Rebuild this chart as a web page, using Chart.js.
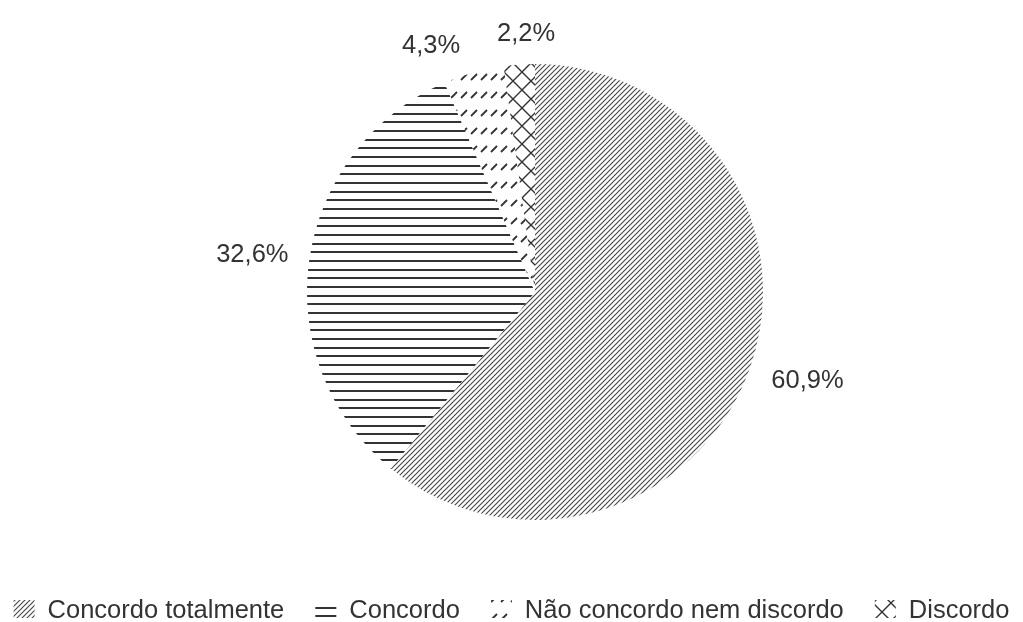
<!DOCTYPE html>
<html>
<head>
<meta charset="utf-8">
<script src="https://cdn.jsdelivr.net/npm/chart.js@4.4.0/dist/chart.umd.min.js"></script>
<style>
    html, body { margin: 0; padding: 0; background: #ffffff; }
    #wrap { width: 1023px; height: 622px; position: relative; }
</style>
</head>
<body>
<div id="wrap"><canvas id="pieChart"></canvas></div>
<script>
// Data
const categories = ['Concordo totalmente', 'Concordo', 'Não concordo nem discordo', 'Discordo'];
const percentages = [60.9, 32.6, 4.3, 2.2];
const percentLabels = ['60,9%', '32,6%', '4,3%', '2,2%'];

// Label angle nudges (degrees), like Excel's best-fit shuffling
const labelNudge = [-2, 0, -7, 2];

const INK = '#333333';
const FONT = '25.5px "Liberation Sans", Arial, sans-serif';

// Build a pattern from a small tile
function makePattern(w, h, draw) {
    const c = document.createElement('canvas');
    c.width = w;
    c.height = h;
    const g = c.getContext('2d');
    g.fillStyle = '#ffffff';
    g.fillRect(0, 0, w, h);
    g.strokeStyle = INK;
    g.fillStyle = INK;
    draw(g, w, h);
    return document.createElement('canvas').getContext('2d').createPattern(c, 'repeat');
}

// Dense upward diagonal
const diagPattern = makePattern(5, 5, (g, s) => {
    g.strokeStyle = '#4a4a4a';
    g.lineWidth = 1.2;
    g.beginPath();
    g.moveTo(-1, s + 1); g.lineTo(s + 1, -1);
    g.moveTo(-1, 1); g.lineTo(1, -1);
    g.moveTo(s - 1, s + 1); g.lineTo(s + 1, s - 1);
    g.stroke();
});

// Horizontal lines
const horizPattern = makePattern(4, 26, (g) => {
    g.fillRect(0, 0, 4, 2);
    g.fillRect(0, 9, 4, 2);
    g.fillRect(0, 17, 4, 2);
});

// Short dashes in rows
const dashPattern = makePattern(10, 18, (g) => {
    g.lineWidth = 1.8;
    g.beginPath();
    g.moveTo(1, 8); g.lineTo(7, 2);
    g.stroke();
});

// Diamond lattice
const crossPattern = makePattern(18, 18, (g, s) => {
    g.lineWidth = 1.4;
    g.beginPath();
    g.moveTo(0, 0); g.lineTo(s, s);
    g.moveTo(s, 0); g.lineTo(0, s);
    g.stroke();
});

const fills = [diagPattern, horizPattern, dashPattern, crossPattern];

// Percentage labels outside the slices
const outsideLabels = {
    id: 'outsideLabels',
    afterDatasetsDraw(chart) {
        const ctx = chart.ctx;
        const meta = chart.getDatasetMeta(0);
        ctx.save();
        ctx.font = FONT;
        ctx.fillStyle = INK;
        ctx.textAlign = 'center';
        ctx.textBaseline = 'alphabetic';
        const capH = 19;
        meta.data.forEach((arc, i) => {
            const mid = (arc.startAngle + arc.endAngle) / 2 + labelNudge[i] * Math.PI / 180;
            const dx = Math.cos(mid);
            const dy = Math.sin(mid);
            const w = ctx.measureText(percentLabels[i]).width;
            const extent = Math.abs(dx) * w / 2 + Math.abs(dy) * (capH + 4) / 2;
            const dist = arc.outerRadius + 20 + extent;
            const cx = arc.x + dx * dist;
            const cy = arc.y + dy * dist;
            ctx.fillText(percentLabels[i], cx, cy + capH / 2);
        });
        ctx.restore();
    }
};

// Legend along the bottom
const bottomLegend = {
    id: 'bottomLegend',
    afterDraw(chart) {
        const ctx = chart.ctx;
        const boxW = 21, boxH = 18, gap = 13, itemGap = 31;
        const baseline = 618;
        ctx.save();
        ctx.font = FONT;
        const widths = categories.map(t => ctx.measureText(t).width);
        const total = widths.reduce((a, b) => a + b + boxW + gap, 0) + itemGap * (categories.length - 1);
        let x = (chart.width - total) / 2;
        categories.forEach((label, i) => {
            ctx.fillStyle = fills[i];
            ctx.fillRect(x, baseline - boxH, boxW, boxH);
            ctx.fillStyle = INK;
            ctx.textAlign = 'left';
            ctx.textBaseline = 'alphabetic';
            ctx.fillText(label, x + boxW + gap, baseline);
            x += boxW + gap + widths[i] + itemGap;
        });
        ctx.restore();
    }
};

const ctx = document.getElementById('pieChart').getContext('2d');
new Chart(ctx, {
    type: 'pie',
    data: {
        labels: categories,
        datasets: [{
            data: percentages,
            backgroundColor: fills,
            borderWidth: 0
        }]
    },
    options: {
        responsive: true,
        maintainAspectRatio: false,
        animation: false,
        layout: {
            padding: { top: 64, bottom: 102, left: 47, right: 0 }
        },
        plugins: {
            legend: { display: false },
            tooltip: { enabled: false }
        }
    },
    plugins: [outsideLabels, bottomLegend]
});
</script>
</body>
</html>
